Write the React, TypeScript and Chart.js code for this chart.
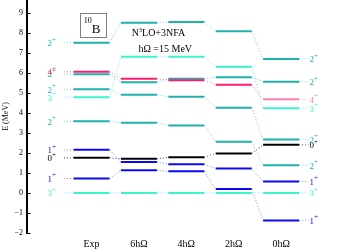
import React, { useEffect, useRef } from 'react';
import { Chart, registerables } from 'chart.js';

Chart.register(...registerables);

const columns = ['Exp', '6hΩ', '4hΩ', '2hΩ', '0hΩ'];
const yTicks = [-2, -1, 0, 1, 2, 3, 4, 5, 6, 7, 8, 9];

// level energies (MeV) per column: Exp, 6hΩ, 4hΩ, 2hΩ, 0hΩ
const level3plus1 = [0, 0, 0, 0, 0];
const level1plus1 = [0.72, 1.13, 1.08, 0.2, -1.37];
const level0plus1 = [1.75, 1.7, 1.78, 1.97, 2.4];
const level1plus2 = [2.15, 1.55, 1.43, 1.22, 0.57];
const level2plus1 = [3.58, 3.5, 3.37, 2.55, 1.38];
const level3plus2 = [4.78, 6.8, 6.8, 6.3, 4.23];
const level2plus2 = [5.17, 4.9, 4.8, 4.25, 2.67];
const level2plus3 = [5.93, 5.53, 5.7, 5.77, 5.55];
const level4plus1 = [6.05, 5.7, 5.63, 5.4, 4.67];
const level2plus4 = [7.5, 8.5, 8.53, 8.07, 6.68];

const levels = [
  level3plus1, level1plus1, level0plus1, level1plus2, level2plus1,
  level3plus2, level2plus2, level2plus3, level4plus1, level2plus4,
];
const levelJ = ['3', '1', '0', '1', '2', '3', '2', '2', '4', '2'];
const levelKind = ['aqua', 'blue', 'black', 'blue', 'teal', 'aqua', 'teal', 'teal', 'pink', 'teal'];

const COLORS: Record<string, string> = {
  aqua: '#3ef2cc',
  blue: '#0a0af0',
  black: '#000000',
  teal: '#1fb0ac',
  pink: '#ff1a6e',
};
const FADED: Record<string, string> = {
  aqua: 'rgba(62,242,204,0.75)',
  blue: 'rgba(40,40,240,0.55)',
  black: 'rgba(0,0,0,0.7)',
  teal: 'rgba(31,176,172,0.6)',
  pink: 'rgba(255,26,110,0.55)',
};
const PINK_LIGHT = '#ff80b0';

const HALF = 0.38;
const LEAD = 0.2;
const SERIF = '"Liberation Serif", "Times New Roman", serif';

function barColor(s: number, c: number) {
  const k = levelKind[s];
  if (k === 'pink' && c === columns.length - 1) return PINK_LIGHT;
  return COLORS[k];
}

function buildDatasets() {
  const ds: any[] = [];
  levels.forEach((vals, s) => {
    const kind = levelKind[s];
    const front = kind === 'pink' ? 0 : 1;
    vals.forEach((v, c) => {
      ds.push({
        data: [{ x: c - HALF, y: v }, { x: c + HALF, y: v }],
        borderColor: barColor(s, c),
        borderWidth: 2,
        pointRadius: 0,
        order: front,
      });
      if (c < vals.length - 1) {
        ds.push({
          data: [{ x: c + HALF, y: v }, { x: c + 1 - HALF, y: vals[c + 1] }],
          borderColor: FADED[kind],
          borderWidth: 1,
          borderDash: [1, 2],
          pointRadius: 0,
          order: 3,
        });
      }
    });
    const last = vals.length - 1;
    ds.push({
      data: [{ x: -HALF - LEAD, y: vals[0] }, { x: -HALF, y: vals[0] }],
      borderColor: FADED[kind],
      borderWidth: 1,
      borderDash: [1, 2],
      pointRadius: 0,
      order: 3,
    });
    ds.push({
      data: [{ x: last + HALF, y: vals[last] }, { x: last + HALF + LEAD, y: vals[last] }],
      borderColor: kind === 'pink' ? 'rgba(255,128,176,0.7)' : FADED[kind],
      borderWidth: 1,
      borderDash: [1, 2],
      pointRadius: 0,
      order: 3,
    });
  });
  return ds;
}

function drawJ(ctx: CanvasRenderingContext2D, j: string, px: number, py: number, color: string, align: 'left' | 'right') {
  ctx.fillStyle = color;
  ctx.textBaseline = 'middle';
  ctx.font = `9px ${SERIF}`;
  const wj = ctx.measureText(j).width;
  ctx.font = `7px ${SERIF}`;
  const wp = ctx.measureText('+').width;
  const start = align === 'left' ? px : px - wj - wp;
  ctx.textAlign = 'left';
  ctx.font = `9px ${SERIF}`;
  ctx.fillText(j, start, py + 1);
  ctx.font = `7px ${SERIF}`;
  ctx.fillText('+', start + wj, py - 3);
}

const overlay = {
  id: 'overlay',
  afterDraw(chart: any) {
    const { ctx, scales, chartArea } = chart;
    const x = scales.x;
    const y = scales.y;
    ctx.save();
    // inward tick marks
    ctx.strokeStyle = '#000';
    ctx.lineWidth = 1;
    yTicks.forEach((v) => {
      const py = Math.round(y.getPixelForValue(v)) + 0.5;
      ctx.beginPath();
      ctx.moveTo(chartArea.left, py);
      ctx.lineTo(chartArea.left + 3.5, py);
      ctx.stroke();
    });
    // level labels (left of Exp, right of 0hΩ)
    const last = columns.length - 1;
    const order = levels.map((_, i) => i).sort((a, b) => (levelKind[a] === 'pink' ? 1 : 0) - (levelKind[b] === 'pink' ? 1 : 0));
    order.forEach((s) => {
      const vals = levels[s];
      drawJ(ctx, levelJ[s], x.getPixelForValue(-0.75), y.getPixelForValue(vals[0]), COLORS[levelKind[s]], 'right');
      drawJ(ctx, levelJ[s], x.getPixelForValue(last + 0.6), y.getPixelForValue(vals[last]), barColor(s, last), 'left');
    });
    // column labels
    ctx.fillStyle = '#000';
    ctx.textAlign = 'center';
    ctx.textBaseline = 'middle';
    ctx.font = `10px ${SERIF}`;
    columns.forEach((c, i) => {
      ctx.fillText(c, x.getPixelForValue(i), chartArea.bottom + 11);
    });
    // nucleus box
    const bx0 = x.getPixelForValue(-0.24);
    const bx1 = x.getPixelForValue(0.31);
    const by0 = y.getPixelForValue(8.98);
    const by1 = y.getPixelForValue(7.78);
    ctx.strokeStyle = '#808080';
    ctx.lineWidth = 1;
    ctx.strokeRect(Math.round(bx0) + 0.5, Math.round(by0) + 0.5, Math.round(bx1 - bx0), Math.round(by1 - by0));
    ctx.textAlign = 'left';
    ctx.textBaseline = 'alphabetic';
    ctx.font = `8px ${SERIF}`;
    ctx.fillText('10', bx0 + 3.5, by0 + 10);
    const w10 = ctx.measureText('10').width;
    ctx.font = `13px ${SERIF}`;
    ctx.fillText('B', bx0 + 3.5 + w10, by0 + 19.5);
    // interaction text
    ctx.font = `10px ${SERIF}`;
    const nx = x.getPixelForValue(0.85);
    const ny = y.getPixelForValue(7.83);
    ctx.fillText('N', nx, ny);
    const wn = ctx.measureText('N').width;
    ctx.font = `6px ${SERIF}`;
    ctx.fillText('3', nx + wn, ny - 4);
    const w3 = ctx.measureText('3').width;
    ctx.font = `10px ${SERIF}`;
    ctx.fillText('LO+3NFA', nx + wn + w3, ny);
    ctx.fillText('hΩ =15 MeV', x.getPixelForValue(0.99), y.getPixelForValue(7.02));
    ctx.restore();
  },
};

export default function App() {
  const ref = useRef<HTMLCanvasElement | null>(null);
  useEffect(() => {
    if (!ref.current) return;
    const chart = new Chart(ref.current, {
      type: 'line',
      data: { datasets: buildDatasets() },
      options: {
        responsive: false,
        maintainAspectRatio: false,
        animation: false,
        events: [],
        layout: { padding: { left: 0, right: 0, top: 0, bottom: 19 } },
        plugins: { legend: { display: false }, tooltip: { enabled: false } },
        scales: {
          x: { type: 'linear', min: -1.361, max: 5.2, display: false },
          y: {
            type: 'linear',
            min: -2,
            max: 9.63,
            afterBuildTicks: (s: any) => {
              s.ticks = yTicks.map((v) => ({ value: v }));
            },
            afterFit: (s: any) => {
              s.width = 27;
              s.paddingTop = 0;
              s.paddingBottom = 0;
            },
            ticks: {
              color: '#000',
              padding: 4,
              font: { family: SERIF, size: 8 },
              callback: (v: any) => String(v).replace('-', '−'),
            },
            grid: { drawOnChartArea: false, drawTicks: false },
            border: { display: true, color: '#000', width: 2 },
            title: {
              display: true,
              text: 'E (MeV)',
              color: '#000',
              font: { family: SERIF, size: 8 },
              padding: { top: 1, bottom: 0 },
            },
          },
        },
      },
      plugins: [overlay],
    });
    return () => chart.destroy();
  }, []);
  return (
    <div style={{ position: 'absolute', left: 0, top: 0, width: 338, height: 252, background: '#fff' }}>
      <canvas ref={ref} width={338} height={252} style={{ display: 'block' }} />
    </div>
  );
}
